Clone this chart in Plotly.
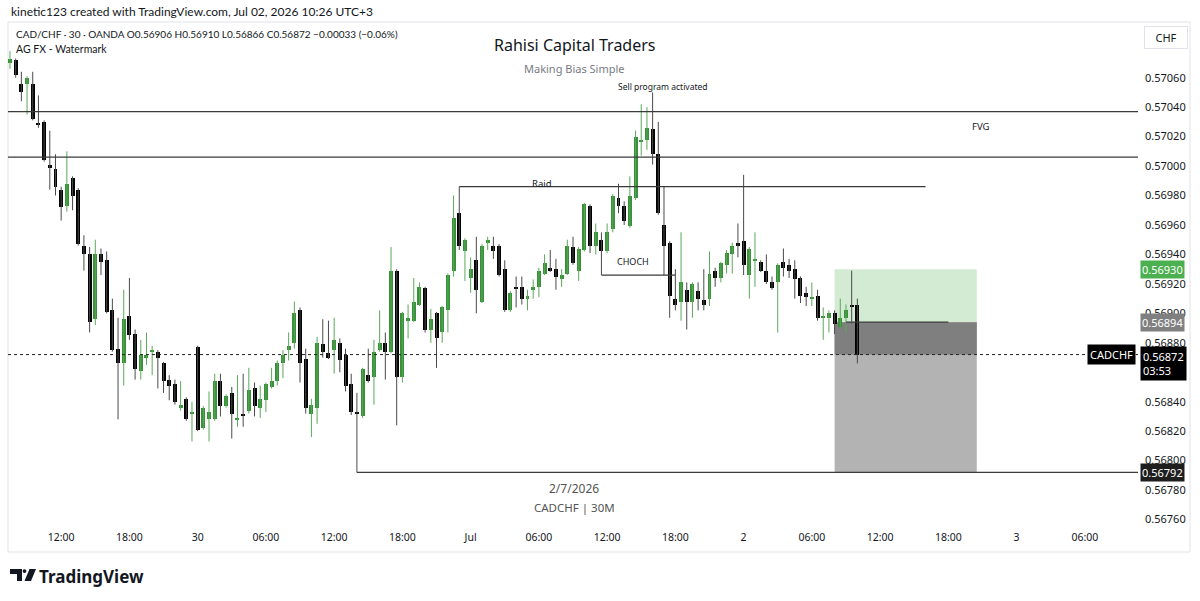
import plotly.graph_objects as go
import pandas as pd

# ---------------- data ----------------
start_time = "2026-06-29 07:30"
n_candles = 150
times = pd.date_range(start_time, periods=n_candles, freq="30min")

opens = [0.57070,0.57072,0.57056,0.57056,0.57056,0.57029,0.57030,0.57001,0.56998,0.56984,
         0.56973,0.56992,0.56984,0.56946,0.56940,0.56896,0.56940,0.56936,0.56902,0.56876,
         0.56866,0.56898,0.56886,0.56861,0.56870,0.56874,0.56874,0.56866,0.56855,0.56852,
         0.56836,0.56842,0.56832,0.56877,0.56822,0.56828,0.56828,0.56854,0.56837,0.56846,
         0.56828,0.56832,0.56834,0.56849,0.56836,0.56841,0.56850,0.56854,0.56866,0.56875,
         0.56880,0.56902,0.56869,0.56832,0.56836,0.56879,0.56873,0.56875,0.56880,0.56872,
         0.56852,0.56833,0.56830,0.56858,0.56857,0.56875,0.56880,0.56874,0.56929,0.56857,
         0.56895,0.56895,0.56906,0.56917,0.56889,0.56900,0.56887,0.56902,0.56929,0.56968,
         0.56942,0.56924,0.56936,0.56908,0.56948,0.56946,0.56946,0.56930,0.56902,0.56918,
         0.56918,0.56910,0.56916,0.56918,0.56927,0.56931,0.56930,0.56923,0.56927,0.56945,
         0.56929,0.56943,0.56973,0.56946,0.56950,0.56942,0.56957,0.56978,0.56973,0.56959,
         0.56978,0.57017,0.57018,0.57025,0.57008,0.56960,0.56948,0.56910,0.56908,0.56916,
         0.56908,0.56915,0.56909,0.56910,0.56929,0.56924,0.56933,0.56940,0.56948,0.56949,
         0.56926,0.56936,0.56935,0.56929,0.56921,0.56921,0.56935,0.56933,0.56930,0.56924,
         0.56914,0.56910,0.56912,0.56897,0.56897,0.56900,0.56891,0.56897,0.56906,0.56906]
highs = [0.57078,0.57073,0.57064,0.57061,0.57064,0.57048,0.57031,0.57024,0.57008,0.56986,
         0.57010,0.56993,0.56985,0.56953,0.56945,0.56950,0.56944,0.56942,0.56910,0.56897,
         0.56916,0.56924,0.56889,0.56882,0.56887,0.56878,0.56875,0.56867,0.56858,0.56855,
         0.56854,0.56843,0.56840,0.56878,0.56837,0.56847,0.56859,0.56859,0.56845,0.56850,
         0.56858,0.56859,0.56863,0.56853,0.56851,0.56853,0.56863,0.56868,0.56875,0.56887,
         0.56908,0.56904,0.56876,0.56842,0.56884,0.56896,0.56895,0.56897,0.56883,0.56876,
         0.56859,0.56846,0.56863,0.56876,0.56882,0.56902,0.56887,0.56945,0.56930,0.56901,
         0.56906,0.56924,0.56921,0.56918,0.56903,0.56901,0.56905,0.56927,0.56980,0.56986,
         0.56951,0.56938,0.56952,0.56947,0.56952,0.56952,0.56947,0.56936,0.56915,0.56925,
         0.56925,0.56916,0.56923,0.56931,0.56940,0.56943,0.56937,0.56930,0.56950,0.56952,
         0.56945,0.56975,0.56974,0.56961,0.56955,0.56961,0.56981,0.56988,0.56976,0.56993,
         0.57024,0.57042,0.57040,0.57050,0.57030,0.56986,0.56949,0.56930,0.56955,0.56921,
         0.56921,0.56921,0.56930,0.56942,0.56931,0.56935,0.56943,0.56948,0.56961,0.56994,
         0.56945,0.56955,0.56936,0.56940,0.56925,0.56934,0.56944,0.56937,0.56936,0.56925,
         0.56918,0.56921,0.56916,0.56904,0.56902,0.56902,0.56910,0.56906,0.56929,0.56910]
lows = [0.57066,0.57060,0.57044,0.57035,0.57031,0.57026,0.57003,0.56984,0.56980,0.56963,
        0.56969,0.56970,0.56946,0.56929,0.56887,0.56892,0.56926,0.56900,0.56874,0.56828,
        0.56851,0.56882,0.56855,0.56855,0.56865,0.56858,0.56849,0.56846,0.56841,0.56838,
        0.56834,0.56827,0.56813,0.56820,0.56821,0.56813,0.56827,0.56830,0.56836,0.56815,
        0.56823,0.56823,0.56832,0.56830,0.56829,0.56833,0.56849,0.56851,0.56856,0.56868,
        0.56876,0.56853,0.56832,0.56816,0.56825,0.56870,0.56869,0.56859,0.56860,0.56847,
        0.56831,0.56792,0.56829,0.56853,0.56838,0.56874,0.56855,0.56873,0.56824,0.56853,
        0.56883,0.56894,0.56905,0.56887,0.56880,0.56863,0.56880,0.56887,0.56925,0.56943,
        0.56922,0.56914,0.56900,0.56907,0.56943,0.56937,0.56925,0.56901,0.56901,0.56904,
        0.56906,0.56902,0.56910,0.56911,0.56926,0.56928,0.56916,0.56918,0.56926,0.56933,
        0.56922,0.56942,0.56941,0.56940,0.56926,0.56941,0.56955,0.56968,0.56960,0.56958,
        0.56977,0.57007,0.57011,0.57001,0.56967,0.56926,0.56897,0.56902,0.56895,0.56889,
        0.56897,0.56902,0.56902,0.56905,0.56918,0.56921,0.56927,0.56927,0.56938,0.56926,
        0.56910,0.56918,0.56928,0.56920,0.56916,0.56887,0.56925,0.56924,0.56910,0.56907,
        0.56905,0.56905,0.56895,0.56882,0.56887,0.56886,0.56890,0.56887,0.56893,0.56866]
closes = [0.57073,0.57062,0.57050,0.57060,0.57032,0.57028,0.57004,0.56999,0.56986,0.56972,
          0.56988,0.56980,0.56947,0.56940,0.56894,0.56940,0.56935,0.56901,0.56875,0.56866,
          0.56896,0.56885,0.56862,0.56872,0.56872,0.56875,0.56870,0.56854,0.56851,0.56840,
          0.56838,0.56828,0.56833,0.56821,0.56836,0.56833,0.56854,0.56837,0.56844,0.56832,
          0.56829,0.56830,0.56848,0.56837,0.56842,0.56852,0.56854,0.56866,0.56872,0.56878,
          0.56900,0.56866,0.56836,0.56838,0.56880,0.56874,0.56870,0.56882,0.56868,0.56851,
          0.56833,0.56832,0.56862,0.56854,0.56874,0.56880,0.56874,0.56929,0.56857,0.56900,
          0.56897,0.56908,0.56918,0.56889,0.56896,0.56883,0.56904,0.56926,0.56965,0.56946,
          0.56950,0.56930,0.56916,0.56946,0.56950,0.56942,0.56926,0.56902,0.56914,0.56917,
          0.56910,0.56912,0.56918,0.56929,0.56934,0.56929,0.56925,0.56926,0.56946,0.56934,
          0.56944,0.56974,0.56946,0.56955,0.56942,0.56955,0.56980,0.56973,0.56963,0.56980,
          0.57020,0.57018,0.57026,0.57008,0.56968,0.56946,0.56912,0.56906,0.56921,0.56908,
          0.56920,0.56910,0.56906,0.56927,0.56924,0.56934,0.56941,0.56946,0.56946,0.56933,
          0.56944,0.56937,0.56929,0.56921,0.56917,0.56933,0.56931,0.56929,0.56923,0.56912,
          0.56911,0.56911,0.56897,0.56898,0.56900,0.56893,0.56897,0.56902,0.56904,0.56872]

# levels / drawings
fvg_high = 0.57037
fvg_low = 0.57006
raid_level = 0.56986
choch_level = 0.56926
target_level = 0.56792
entry_level = 0.56894
stop_level = 0.56930
last_price = 0.56872

raid_start, raid_end = "2026-06-30 23:00", "2026-07-02 16:00"
choch_start, choch_end = "2026-07-01 11:30", "2026-07-01 18:00"
target_start = "2026-06-30 14:00"
pos_start, pos_end = "2026-07-02 08:00", "2026-07-02 20:30"
entry_start, entry_end = "2026-07-02 09:00", "2026-07-02 18:00"

tick_vals = ["2026-06-29 12:00", "2026-06-29 18:00", "2026-06-30 00:00", "2026-06-30 06:00",
             "2026-06-30 12:00", "2026-06-30 18:00", "2026-07-01 00:00", "2026-07-01 06:00",
             "2026-07-01 12:00", "2026-07-01 18:00", "2026-07-02 00:00", "2026-07-02 06:00",
             "2026-07-02 12:00", "2026-07-02 18:00", "2026-07-03 00:00", "2026-07-03 06:00"]
tick_text = ["12:00", "18:00", "30", "06:00", "12:00", "18:00", "Jul", "06:00",
             "12:00", "18:00", "2", "06:00", "12:00", "18:00", "3", "06:00"]
price_ticks = [0.5676, 0.5678, 0.5680, 0.5682, 0.5684, 0.5688, 0.5690,
               0.5692, 0.5694, 0.5696, 0.5698, 0.5700, 0.5702, 0.5704, 0.5706]

# ---------------- layout helpers ----------------
W, H = 1200, 601
ML, MR, MT, MB = 8, 62, 22, 76
PW, PH = W - ML - MR, H - MT - MB


def px(x):
    return (x - ML) / PW


def py(y):
    return (H - MB - y) / PH


FONT = "Noto Sans, sans-serif"
UIFONT = "Lato, sans-serif"
TXT = "#131722"
UP_BODY, UP_WICK = "#389038", "#5aa85a"
DN_BODY, DN_WICK = "#000000", "#4a4a4a"

fig = go.Figure()

# wicks
for up in (True, False):
    wx, wy = [], []
    for t, o, h, l, c in zip(times, opens, highs, lows, closes):
        if (c >= o) == up:
            wx += [t, t, None]
            wy += [l, h, None]
    fig.add_trace(go.Scatter(x=wx, y=wy, mode="lines", showlegend=False, hoverinfo="skip",
                             line=dict(color=UP_WICK if up else DN_WICK, width=1)))

# bodies
body_base = [min(o, c) for o, c in zip(opens, closes)]
body_h = [max(abs(c - o), 0.0000075) for o, c in zip(opens, closes)]
body_col = [UP_BODY if c >= o else DN_BODY for o, c in zip(opens, closes)]
fig.add_trace(go.Bar(x=times, y=body_h, base=body_base, width=21 * 60 * 1000,
                     marker=dict(color=body_col, line=dict(width=0)),
                     showlegend=False, hoverinfo="skip"))

shapes = []
# position tool
shapes.append(dict(type="rect", xref="x", yref="y", x0=pos_start, x1=pos_end,
                   y0=entry_level, y1=stop_level, fillcolor="#d3ebd2", line_width=0, layer="below"))
shapes.append(dict(type="rect", xref="x", yref="y", x0=pos_start, x1=pos_end,
                   y0=target_level, y1=entry_level, fillcolor="#b3b3b3", line_width=0, layer="below"))
shapes.append(dict(type="rect", xref="x", yref="y", x0=pos_start, x1=pos_end,
                   y0=last_price, y1=entry_level, fillcolor="#7f7f7f", line_width=0, layer="below"))
shapes.append(dict(type="line", xref="x", yref="y", x0=entry_start, x1=entry_end,
                   y0=entry_level, y1=entry_level, line=dict(color="#3a3a3a", width=1.2)))
# horizontal levels
for lvl in (fvg_high, fvg_low):
    shapes.append(dict(type="line", xref="paper", yref="y", x0=0, x1=1, y0=lvl, y1=lvl,
                       line=dict(color="#3a3a3a", width=1.2)))
shapes.append(dict(type="line", xref="x", yref="y", x0=raid_start, x1=raid_end,
                   y0=raid_level, y1=raid_level, line=dict(color="#3a3a3a", width=1.2)))
shapes.append(dict(type="line", xref="x", yref="y", x0=choch_start, x1=choch_end,
                   y0=choch_level, y1=choch_level, line=dict(color="#3a3a3a", width=1.2)))
shapes.append(dict(type="line", xref="x", yref="y", x0=target_start, x1=times[-1] + pd.Timedelta(hours=48),
                   y0=target_level, y1=target_level, line=dict(color="#3a3a3a", width=1.2)))
shapes.append(dict(type="line", xref="paper", yref="y", x0=0, x1=1, y0=last_price, y1=last_price,
                   line=dict(color="#222222", width=1, dash="dot")))
# frame around chart
shapes.append(dict(type="rect", xref="paper", yref="paper", x0=px(8), x1=px(1190), y0=py(552), y1=py(22),
                   line=dict(color="#e0e3eb", width=1), fillcolor="rgba(0,0,0,0)", layer="below"))
# TradingView logo
shapes.append(dict(type="rect", xref="paper", yref="paper", x0=px(10), x1=px(22), y0=py(574), y1=py(569),
                   fillcolor="#131722", line_width=0))
shapes.append(dict(type="rect", xref="paper", yref="paper", x0=px(17), x1=px(22), y0=py(581), y1=py(569),
                   fillcolor="#131722", line_width=0))
shapes.append(dict(type="circle", xref="paper", yref="paper", x0=px(22.6), x1=px(26.4), y0=py(573), y1=py(569.2),
                   fillcolor="#131722", line_width=0))
x1p, x2p, x3p, x4p = px(29.5), px(36), px(31), px(24.5)
shapes.append(dict(type="path", xref="paper", yref="paper",
                   path=f"M {x1p} {py(569)} L {x2p} {py(569)} L {x3p} {py(581)} L {x4p} {py(581)} Z",
                   fillcolor="#131722", line_width=0))

ann = []


def a(text, x, y, size, color=TXT, xanchor="left", yanchor="middle", xref="paper", yref="paper",
      family=FONT, **kw):
    ann.append(dict(text=text, x=x, y=y, xref=xref, yref=yref, showarrow=False,
                    xanchor=xanchor, yanchor=yanchor, font=dict(size=size, color=color, family=family), **kw))


a("kinetic123 created with TradingView.com, Jul 02, 2026 10:26 UTC+3", px(9), py(12), 12, family=UIFONT)
a("CAD/CHF · 30 · OANDA O0.56906 H0.56910 L0.56866 C0.56872 −0.00033 (−0.06%)", px(14), py(34), 10,
  family=UIFONT)
a("AG FX - Watermark", px(14), py(49), 10.5, family=UIFONT)
a("Rahisi Capital Traders", px(575), py(45), 16, xanchor="center")
a("Making Bias Simple", px(574), py(69), 11, color="#787b86", xanchor="center")
a("2/7/2026", px(574), py(488), 12, color="#555555", xanchor="center")
a("CADCHF | 30M", px(574), py(507), 11.5, color="#555555", xanchor="center")
a("<b>TradingView</b>", px(37), py(576), 17, color="#131722")

# chart labels (data coordinates)
a("Sell program activated", "2026-07-01 16:55", 0.57054, 8.5, xanchor="center", xref="x", yref="y")
a("FVG", "2026-07-02 20:50", 0.57027, 9.5, xanchor="center", xref="x", yref="y")
a("Raid", "2026-07-01 06:15", 0.56988, 9.5, xanchor="center", xref="x", yref="y")
a("CHOCH", "2026-07-01 14:15", 0.56935, 9, xanchor="center", xref="x", yref="y")


# price tags on axis
def tag(text, price, bg, fg="white", xshift=2):
    ann.append(dict(text=text, x=1, y=price, xref="paper", yref="y", showarrow=False,
                    xanchor="left", yanchor="middle", xshift=xshift, bgcolor=bg, borderpad=1,
                    font=dict(size=11, color=fg, family=FONT)))


tag("0.56930", stop_level, "#4caf50")
tag("0.56894", entry_level, "#808080")
ann.append(dict(text="0.56872<br>03:53", x=1, y=last_price, xref="paper", yref="y", showarrow=False,
                xanchor="left", yanchor="top", xshift=2, yshift=9, bgcolor="#000000", borderpad=2, align="left",
                font=dict(size=11, color="white", family=FONT)))
tag("0.56792", target_level, "#1e1e1e")
ann.append(dict(text="CADCHF", x=1, y=last_price, xref="paper", yref="y", showarrow=False,
                xanchor="right", yanchor="middle", xshift=-2, bgcolor="#000000", borderpad=2,
                font=dict(size=11, color="white", family=FONT)))
ann.append(dict(text="CHF", x=px(1166), y=py(37), xref="paper", yref="paper", showarrow=False,
                xanchor="center", yanchor="middle", bgcolor="white", bordercolor="#e0e3eb", borderwidth=1,
                borderpad=3, width=36, font=dict(size=11, color=TXT, family=FONT)))

fig.update_layout(
    width=W, height=H, margin=dict(l=ML, r=MR, t=MT, b=MB),
    paper_bgcolor="white", plot_bgcolor="white",
    shapes=shapes, annotations=ann, bargap=0,
    font=dict(family=FONT, color=TXT),
    xaxis=dict(type="date", range=["2026-06-29 07:19:30", "2026-07-03 10:40:30"],
               showgrid=False, zeroline=False,
               tickvals=tick_vals, ticktext=tick_text, ticks="", showline=False,
               tickfont=dict(size=10.5, color=TXT, family=FONT), ticklabelstandoff=4),
    yaxis=dict(side="right", range=[0.567563, 0.570978], showgrid=False, zeroline=False,
               tickvals=price_ticks, ticktext=[f"{v:.5f}" for v in price_ticks], ticks="",
               showline=False, tickfont=dict(size=11, color=TXT, family=FONT), ticklabelstandoff=6),
)

fig.write_html("out.html")
